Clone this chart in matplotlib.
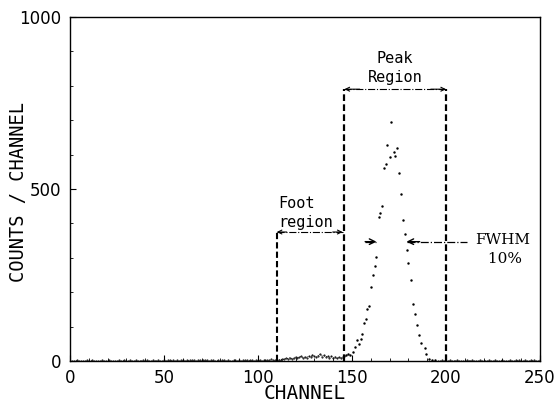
import matplotlib
matplotlib.use("Agg")
import matplotlib.pyplot as plt
import numpy as np

# ---- data ----
bg_channels = list(range(0, 110))
bg_counts = [0,1,0,0,2,0,1,0,0,3,
             1,0,2,0,0,1,0,3,0,1,
             0,2,0,1,0,0,4,1,0,2,
             1,0,3,0,1,2,0,0,1,3,
             0,2,1,0,3,0,1,2,0,1,
             4,1,2,3,1,2,0,3,1,2,
             3,1,2,1,3,2,4,1,2,3,
             1,2,3,2,1,3,2,1,0,2,
             1,3,2,1,2,0,1,3,2,1,
             2,1,3,2,4,1,2,3,1,2,
             3,2,1,4,2,3,2,5,3,4]

foot_channels = list(range(110, 146))
foot_counts = [2,4,3,6,5,8,7,10,6,9,12,8,11,14,9,13,10,15,12,18,
               14,11,16,20,13,17,12,15,10,14,9,12,8,11,9,13]

peak_channels = [146, 147, 148, 149, 150.7, 151.8, 152.7, 153.7, 154.6, 155.5,
                 156.5, 157.2, 158.2, 158.9, 159.9, 161.3, 162.2, 163.0, 164.2, 165.1,
                 166.0, 167.0, 167.9, 168.8, 170.0, 170.7, 172.3, 173.0, 173.9, 175.0,
                 176.1, 177.3, 178.2, 179.1, 180.0, 181.2, 182.4, 183.7, 184.6, 185.6,
                 186.5, 188.7, 189.6, 191.1, 192.5, 194.0]
peak_counts = [14, 18, 22, 17, 27, 42, 61, 51, 65, 78,
               111, 121, 150, 160, 216, 250, 276, 303, 418, 431,
               451, 560, 572, 628, 592, 696, 608, 596, 619, 546,
               485, 410, 369, 323, 284, 235, 166, 137, 105, 76,
               53, 37, 22, 6, 3, 2]

tail_channels = list(range(196, 251))
tail_counts = [1,0,2,0,1,0,3,0,1,0,
               2,0,1,0,0,2,1,0,3,0,
               1,0,2,0,1,0,0,2,0,1,
               3,0,1,0,2,1,0,0,2,1,
               0,3,1,2,0,1,2,0,1,3,
               1,2,0,1,2]

foot_bounds = [110, 146]
peak_bounds = [146, 200]
fwhm_bounds = [163, 179]
fwhm_level = 347
peak_arrow_level = 790
foot_arrow_level = 375

x_ticks = [0, 50, 100, 150, 200, 250]
y_ticks = [0, 500, 1000]

# ---- figure ----
fig = plt.figure(figsize=(5.55, 4.03), dpi=100)
ax = fig.add_axes([0.126, 0.104, 0.847, 0.854])

mono = 'DejaVu Sans Mono'

ax.plot(bg_channels, bg_counts, linestyle='none', marker='.', ms=1.0, color='black')
ax.plot(foot_channels, foot_counts, linestyle=':', lw=0.6, marker='.', ms=1.0, color='black')
ax.plot(peak_channels, peak_counts, linestyle='none', marker='.', ms=1.5, color='black')
ax.plot(tail_channels, tail_counts, linestyle='none', marker='.', ms=1.0, color='black')

# dashed region boundaries
ax.plot([foot_bounds[0]] * 2, [0, foot_arrow_level], ls=(0, (3, 1.5)), lw=1.5, color='black')
ax.plot([peak_bounds[0]] * 2, [0, peak_arrow_level], ls=(0, (3, 1.5)), lw=1.6, color='black')
ax.plot([peak_bounds[1]] * 2, [0, peak_arrow_level], ls=(0, (3, 1.5)), lw=1.6, color='black')

def span_arrow(x0, x1, y):
    ax.plot([x0, x1], [y, y], ls='-.', lw=0.8, color='black')
    for a, b in [(x0, x1), (x1, x0)]:
        ax.annotate('', xy=(a, y), xytext=(a + (b - a) * 0.15, y),
                    arrowprops=dict(arrowstyle='->', lw=0.8, color='black',
                                    shrinkA=0, shrinkB=0, mutation_scale=7))

span_arrow(peak_bounds[0], peak_bounds[1], peak_arrow_level)
span_arrow(foot_bounds[0], foot_bounds[1] - 1, foot_arrow_level)

# FWHM arrows
ax.plot([157, fwhm_bounds[0]], [fwhm_level] * 2, ls='-.', lw=0.9, color='black')
ax.annotate('', xy=(fwhm_bounds[0], fwhm_level), xytext=(157, fwhm_level),
            arrowprops=dict(arrowstyle='->', lw=1.0, color='black',
                            shrinkA=0, shrinkB=0, mutation_scale=10))
ax.plot([fwhm_bounds[1], 211], [fwhm_level] * 2, ls='-.', lw=0.9, color='black')
ax.annotate('', xy=(fwhm_bounds[1], fwhm_level), xytext=(186, fwhm_level),
            arrowprops=dict(arrowstyle='->', lw=1.0, color='black',
                            shrinkA=0, shrinkB=0, mutation_scale=10))

ax.text(173, 802, 'Peak\nRegion', ha='center', va='bottom', fontsize=11,
        family=mono, linespacing=1.3)
ax.text(111, 381, 'Foot\nregion', ha='left', va='bottom', fontsize=11,
        family=mono, linespacing=1.3)
ax.text(230, 324, 'FWHM\n 10%', ha='center', va='center', fontsize=11,
        family='DejaVu Serif', linespacing=1.4)

ax.set_xlim(0, 250)
ax.set_ylim(0, 1000)
ax.set_xticks(x_ticks)
ax.set_yticks(y_ticks)
ax.set_xticks(np.arange(0, 251, 10), minor=True)
ax.set_yticks(np.arange(0, 1001, 100), minor=True)
ax.tick_params(which='major', direction='in', length=4, width=0.8, labelsize=12, pad=6)
ax.tick_params(which='minor', direction='in', length=2, width=0.6)
ax.set_xlabel('CHANNEL', family=mono, fontsize=14, va='center')
ax.set_ylabel('COUNTS / CHANNEL', family=mono, fontsize=13.5, va='center')
ax.xaxis.set_label_coords(0.5, -0.095)
ax.yaxis.set_label_coords(-0.11, 0.49)
for s in ax.spines.values():
    s.set_linewidth(1.0)

fig.savefig('out.png', dpi=100)
